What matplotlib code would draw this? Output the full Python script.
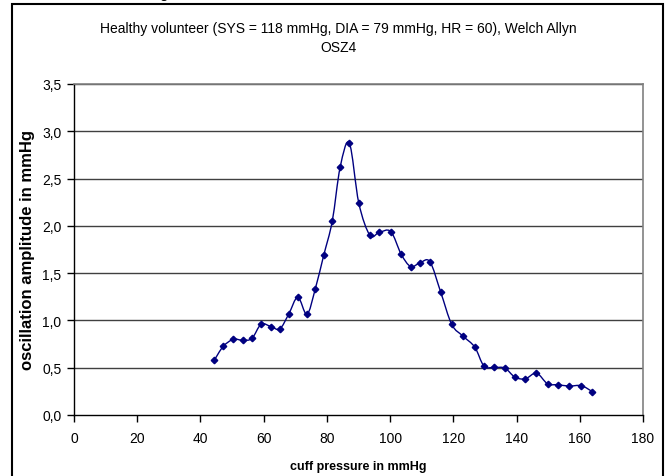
import matplotlib
matplotlib.use('Agg')
import matplotlib.pyplot as plt
from matplotlib.path import Path
from matplotlib.patches import PathPatch, Rectangle
from matplotlib.ticker import FuncFormatter
import numpy as np

plt.rcParams['font.family'] = ['Liberation Sans', 'DejaVu Sans']

# values
cuff_pressure = [44.4, 47.2, 50.4, 53.4, 56.3, 59.2, 62.3, 65.1, 67.9, 70.8,
                 73.7, 76.3, 79.0, 81.7, 84.2, 87.1, 90.1, 93.6, 96.5, 100.2,
                 103.5, 106.5, 109.5, 112.6, 116.0, 119.5, 123.1, 126.8, 129.7, 133.0,
                 136.3, 139.5, 142.8, 146.3, 149.8, 153.1, 156.7, 160.5, 164.0]
amplitude = [0.58, 0.725, 0.80, 0.79, 0.81, 0.96, 0.935, 0.91, 1.065, 1.245,
             1.065, 1.33, 1.69, 2.05, 2.62, 2.875, 2.24, 1.90, 1.93, 1.94,
             1.70, 1.57, 1.61, 1.62, 1.30, 0.957, 0.833, 0.717, 0.517, 0.503,
             0.496, 0.40, 0.383, 0.443, 0.33, 0.32, 0.306, 0.31, 0.246]

title = 'Healthy volunteer (SYS = 118 mmHg, DIA = 79 mmHg, HR = 60), Welch Allyn\nOSZ4'
x_ticks = [0, 20, 40, 60, 80, 100, 120, 140, 160, 180]
y_ticks = [0.0, 0.5, 1.0, 1.5, 2.0, 2.5, 3.0, 3.5]

navy = '#000080'


def smooth_path(xs, ys):
	# excel-like smoothed line: bezier segments through the points
	pts = np.column_stack([xs, ys])
	verts = [pts[0]]
	codes = [Path.MOVETO]
	n = len(pts)
	for i in range(n - 1):
		p0 = pts[i - 1] if i > 0 else pts[i]
		p1 = pts[i]
		p2 = pts[i + 1]
		p3 = pts[i + 2] if i + 2 < n else pts[i + 1]
		c1 = p1 + (p2 - p0) / 6.0
		c2 = p2 - (p3 - p1) / 6.0
		verts += [c1, c2, p2]
		codes += [Path.CURVE4] * 3
	return Path(verts, codes)


fig = plt.figure(figsize=(6.71, 4.77), dpi=100)
ax = fig.add_axes([74/671, 61/477, 569/671, 331/477])

for y in y_ticks[1:]:
	ax.axhline(y, color='#404040', linewidth=1.0, zorder=1)

ax.add_patch(PathPatch(smooth_path(cuff_pressure, amplitude), facecolor='none',
	edgecolor=navy, linewidth=1.0, zorder=3))
ax.plot(cuff_pressure, amplitude, linestyle='none', marker='D', markersize=3.3,
	color=navy, zorder=4)

ax.set_xlim(0, 180)
ax.set_ylim(0, 3.5)
ax.set_xticks(x_ticks)
ax.set_yticks(y_ticks)
ax.yaxis.set_major_formatter(FuncFormatter(lambda v, p: ('%.1f' % v).replace('.', ',')))
ax.tick_params(direction='out', length=5, width=1, labelsize=10, color='black')
ax.tick_params(axis='x', pad=6.5)
ax.tick_params(axis='y', pad=4)

for side in ['top', 'right']:
	ax.spines[side].set_color('#808080')
	ax.spines[side].set_linewidth(1.2)
for side in ['left', 'bottom']:
	ax.spines[side].set_color('black')
	ax.spines[side].set_linewidth(1.0)

ax.set_xlabel('cuff pressure in mmHg', fontsize=9, weight='bold', labelpad=11)
ax.set_ylabel('oscillation amplitude in mmHg', fontsize=12, weight='bold', labelpad=5)

fig.text(0.504, 0.919, title, ha='center', va='center', fontsize=10, linespacing=1.45)

# outer chart border
fig.patches.append(Rectangle((12/671, -0.05), 651/671, (477-5)/477 + 0.05,
	transform=fig.transFigure, fill=False, edgecolor='black', linewidth=1.5))
fig.text(0.238, 1.0 + 1.5/477, 'g', ha='left', va='baseline', fontsize=11)

fig.savefig('out.png', dpi=100)
